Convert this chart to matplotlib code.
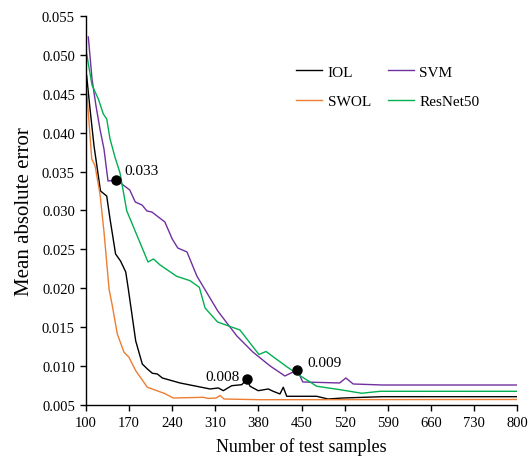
import math
import matplotlib
matplotlib.use("Agg")
import matplotlib.pyplot as plt

plt.rcParams["font.family"] = ["Liberation Serif", "DejaVu Serif"]

# IOL
iol_x = [101, 106.5, 113, 123.5, 133.6, 139, 148, 156, 164.5, 168.7, 180.7, 191.4,
         199.6, 207.7, 215.8, 224, 252.7, 301.4, 314.9, 323, 336.6, 352.9, 361.5,
         366.4, 374.5, 379.8, 396, 404, 415, 420.4, 426, 474.7, 493, 517.4, 582, 800]
iol_y = [0.04733, 0.04305, 0.03829, 0.03251, 0.03186, 0.02891, 0.02441, 0.02351,
         0.0221, 0.01991, 0.01323, 0.01027, 0.00963, 0.00908, 0.00899, 0.00847,
         0.00783, 0.00706, 0.00719, 0.00684, 0.00748, 0.00761, 0.0083, 0.00741,
         0.00706, 0.00684, 0.00706, 0.00676, 0.00642, 0.00728, 0.00612, 0.00612,
         0.00577, 0.0059, 0.00607, 0.00607]

# SWOL
swol_x = [100, 109.3, 114.6, 122.7, 129.2, 137.4, 142.7, 150.8, 161.7, 169.8,
          180.7, 199.6, 226.7, 241.8, 290.5, 298.6, 311, 318, 324, 382.6, 800]
swol_y = [0.04652, 0.03662, 0.03576, 0.03212, 0.02724, 0.01991, 0.01776, 0.01413,
          0.01178, 0.01113, 0.00941, 0.00728, 0.00651, 0.0059, 0.00599, 0.00584,
          0.0059, 0.00622, 0.00577, 0.00568, 0.00571]

# SVM
svm_x = [103.7, 109.7, 116.2, 122.7, 129.2, 135.7, 149, 158, 171, 180, 191, 199,
         207, 228, 240, 249, 264, 280, 314, 345, 371, 399, 423, 443, 452, 512,
         522, 534, 582, 800]
svm_y = [0.05231, 0.04691, 0.04344, 0.04044, 0.03788, 0.03379, 0.0339, 0.03341,
         0.03264, 0.03109, 0.0307, 0.02994, 0.0298, 0.02853, 0.02634, 0.02518,
         0.02467, 0.02158, 0.01708, 0.01387, 0.01181, 0.01002, 0.00873, 0.0095,
         0.00796, 0.00783, 0.00847, 0.0077, 0.00757, 0.00757]

# ResNet50
res_x = [100.8, 109.7, 120, 128.1, 133.6, 139, 147.1, 155.2, 166.1, 200.7, 209.6,
         220.2, 247.3, 268.9, 284, 293.3, 313.6, 350, 371.7, 381, 392.3, 426,
         447.6, 474.7, 512.5, 547.8, 577.5, 800]
res_y = [0.05024, 0.04613, 0.04433, 0.0424, 0.04176, 0.03919, 0.03684, 0.03482,
         0.02997, 0.02338, 0.02377, 0.023, 0.02154, 0.02098, 0.02013, 0.01747,
         0.01567, 0.01464, 0.01242, 0.01149, 0.01188, 0.00992, 0.00877, 0.00741,
         0.00697, 0.00651, 0.00676, 0.00676]

# highlighted points
mark_x = [149, 361.5, 443]
mark_y = [0.0339, 0.0083, 0.0095]
mark_offsets = [(6, 2), (-5, -3), (7, 1)]
mark_align = ["left", "right", "left"]

x_ticks = [100, 170, 240, 310, 380, 450, 520, 590, 660, 730, 800]
y_ticks = [0.005, 0.010, 0.015, 0.020, 0.025, 0.030, 0.035, 0.040, 0.045, 0.050, 0.055]

fig = plt.figure(figsize=(5.32, 4.64), dpi=100)
ax = fig.add_axes([0.1617, 0.125, 0.8101, 0.8384])

lw = 1.0
ax.plot(iol_x, iol_y, color="#000000", lw=lw, label="IOL")
ax.plot(swol_x, swol_y, color="#ED7D31", lw=lw, label="SWOL")
ax.plot(svm_x, svm_y, color="#7030A0", lw=lw, label="SVM")
ax.plot(res_x, res_y, color="#00B050", lw=lw, label="ResNet50")

ax.plot(mark_x, mark_y, "o", color="black", ms=6.5, zorder=5)
for mx, my, off, ha in zip(mark_x, mark_y, mark_offsets, mark_align):
    ax.annotate(f"{math.floor(my * 1000) / 1000:.3f}", (mx, my), xytext=off,
                textcoords="offset points", fontsize=11, va="bottom", ha=ha)

ax.set_xlim(100, 800)
ax.set_ylim(0.005, 0.055)
ax.set_xticks(x_ticks)
ax.set_yticks(y_ticks)
ax.set_yticklabels([f"{v:.3f}" for v in y_ticks])
ax.tick_params(direction="out", length=4, width=1, labelsize=10.5, pad=4)
for s in ("top", "right"):
    ax.spines[s].set_visible(False)
for s in ("left", "bottom"):
    ax.spines[s].set_linewidth(1)

ax.set_xlabel("Number of test samples", fontsize=13, labelpad=6)
ax.set_ylabel("Mean absolute error", fontsize=15, labelpad=6)

ax.legend(ncol=2, frameon=False, fontsize=11, loc="upper left",
          bbox_to_anchor=(0.474, 0.89), handlelength=1.7, handletextpad=0.35,
          columnspacing=1.1, labelspacing=1.05, borderaxespad=0.0)

fig.savefig("out.png", dpi=100)
